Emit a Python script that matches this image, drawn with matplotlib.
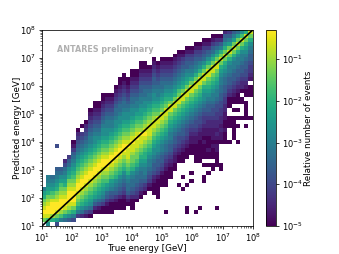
import numpy as np
import matplotlib
matplotlib.use('Agg')
import matplotlib.pyplot as plt
from matplotlib.colors import LogNorm
from matplotlib.ticker import LogLocator, NullFormatter

# relative number of events for the 16 shades used below ('0'..'f')
level_values = [1e-5, 2e-5, 3.5e-5, 6.5e-5, 1.2e-4, 2.3e-4, 4.6e-4, 9.1e-4,
                1.9e-3, 4.1e-3, 8.9e-3, 1.9e-2, 4.4e-2, 9.8e-2, 0.22, 0.5]

# one entry per true energy bin: lowest filled predicted energy bin
first_row = [1, 1, 1, 1, 1, 1, 1, 1, 2, 2, 2, 2, 3, 3, 3, 3, 3, 4, 4, 4, 5, 4, 6, 7, 8,
             9, 10, 10, 10, 10, 12, 14, 16, 16, 17, 18, 16, 16, 17, 17, 17, 15,
             21, 21, 21, 21, 21, 27, 25, 27]

# shades going up from first_row, '.' = empty bin
col_levels = [
    "cefedca97",
    "beffedca9877",
    "adfffecb9876",
    "9ceffedca98765",
    "7bdfffedcb9865",
    "69ceffedca987642",
    "58bdefffedca98653",
    "47acefffedcba98765310",
    "379bcdeffedcba987654320",
    "268abcdeffedcba9876543.0",
    "1479abcdeffedcba987654320",
    "03689abcdeffedcba98776543210",
    "02579abcdeffedcba988765432100",
    "014689abcdeffedcba98765432100",
    "0035789abcdeffedcba988765432100",
    "00135689bcdeffedcba988776543210",
    "000245789bcdeffedcba98776543210",
    "00135678abcdeffedcba988766543210",
    "000245678abcdeffedcba9887665432100",
    "0001345678abcdeffedcba9887665432100",
    "01356678abcdeeefedcba988765432100",
    "0002456678abccdeef" + "edcba9887665432100",
    "023456678abccdeef" + "edcba987765432100",
    "0134566789abcdee" + "fdcba99877655432100",
    "023567789aabcdef" + "edcba9887665432100",
    "0134567789abcdee" + "edcba98776543210",
    "01245567889abcde" + "edcba988765543210",
    "001345567889abcde" + "ecba98776543210",
    "0001345567789abcde" + "ecba98766543210",
    "00001234566789abcde" + "ecba9876543210",
    "00012345567789abce" + "eca9876543210",
    "0011234556789abce" + "eca9876543210",
    "001234456789abce" + "ecb9876543210",
    "0001234556789abce" + "eca987654310",
    "0001234456789abce" + "eca987554310",
    "0001123456789abce" + "eca87654310",
    "0000011234456789abce" + "eca87654310",
    "00000011234456789abce" + "eca8754310",
    "000010112334567889ace" + "eca8654310",
    "001000112234556789abce" + "eca865310",
    "00010111223445677" + "89abce" + "eca865310",
    "00001101212233445677" + "89abce" + "eca86420",
    "011212233445566778" + "9ac" + "eca7520",
    "0001001122334556678" + "9ac" + "eca8652",
    "0...000..000" + "234556778ac" + "ec9753",
    ".000000.0.00" + "1234556778ac" + "ec975",
    "0...0.0.0.000" + "1234556778ac" + "ec96",
    "0...00.0" + "2234556778ac" + "eb8",
    "0.00000.00" + "12344556789ac" + "ea",
    "0.....000." + "1233455678ac" + "e",
]

# isolated bins
stray_col = [1, 3, 3, 26, 26, 27, 27, 27, 29, 34, 34, 36, 37, 41, 35, 33, 32, 33, 34, 35,
             38, 38, 39, 40, 42, 38, 39, 40, 42]
stray_row = [0, 0, 20, 8, 9, 7, 8, 9, 3, 3, 4, 3, 4, 4, 13, 12, 10, 9, 10, 11,
             11, 12, 13, 14, 14, 15, 15, 15, 15]
stray_level = [8, 4, 4, 0, 0, 0, 0, 0, 0, 0, 0, 0, 0, 0, 0, 0, 0, 0, 0, 0,
               0, 0, 0, 0, 0, 0, 0, 0, 0]

decades = [1e1, 1e2, 1e3, 1e4, 1e5, 1e6, 1e7, 1e8]
cbar_ticks = [1e-5, 1e-4, 1e-3, 1e-2, 1e-1]

counts = np.full((50, 50), np.nan)
for j, s in enumerate(col_levels):
    for k, c in enumerate(s):
        if c != '.' and first_row[j] + k < 50:
            counts[first_row[j] + k, j] = level_values[int(c, 16)]
for j, i, l in zip(stray_col, stray_row, stray_level):
    counts[i, j] = level_values[l]

edges = np.logspace(1, 8, 51)

fig = plt.figure(figsize=(3.39, 2.54), dpi=100)
ax = fig.add_axes([42 / 339, 1 - 226 / 254, 210.7 / 339, 196 / 254])
cax = fig.add_axes([265.7 / 339, 1 - 226 / 254, 10 / 339, 196 / 254])

mesh = ax.pcolormesh(edges, edges, np.ma.masked_invalid(counts), cmap='viridis',
                     norm=LogNorm(vmin=1e-5, vmax=0.5), linewidth=0, antialiased=True)
ax.plot([1e1, 1e8], [1e1, 1e8], color='k', lw=1.2)
ax.set_xscale('log')
ax.set_yscale('log')
ax.set_xticks(decades)
ax.set_yticks(decades)
ax.set_xlim(1e1, 1e8)
ax.set_ylim(1e1, 1e8)
ax.set_xlabel('True energy [GeV]', fontsize=6.3, labelpad=-0.6)
ax.set_ylabel('Predicted energy [GeV]', fontsize=6.3, labelpad=-1.2)
ax.text(0.07, 0.9, 'ANTARES preliminary', transform=ax.transAxes, fontsize=5.8,
        fontweight='bold', color='#b0b0b0', va='center')

for axis in (ax.xaxis, ax.yaxis):
    axis.set_minor_locator(LogLocator(base=10, subs=np.arange(2, 10), numticks=12))
    axis.set_minor_formatter(NullFormatter())
ax.tick_params(which='major', labelsize=6, length=2.5, width=0.55, pad=1.8)
ax.tick_params(which='minor', length=1.4, width=0.4)
for sp in ax.spines.values():
    sp.set_linewidth(0.55)

cbar = fig.colorbar(mesh, cax=cax)
cbar.minorticks_off()
cbar.set_ticks(cbar_ticks)
cbar.ax.tick_params(labelsize=6, length=2.5, width=0.55, pad=1.8)
cbar.outline.set_linewidth(0.55)
cbar.set_label('Relative number of events', fontsize=6.3, labelpad=1)

fig.savefig('out.png', dpi=100)
